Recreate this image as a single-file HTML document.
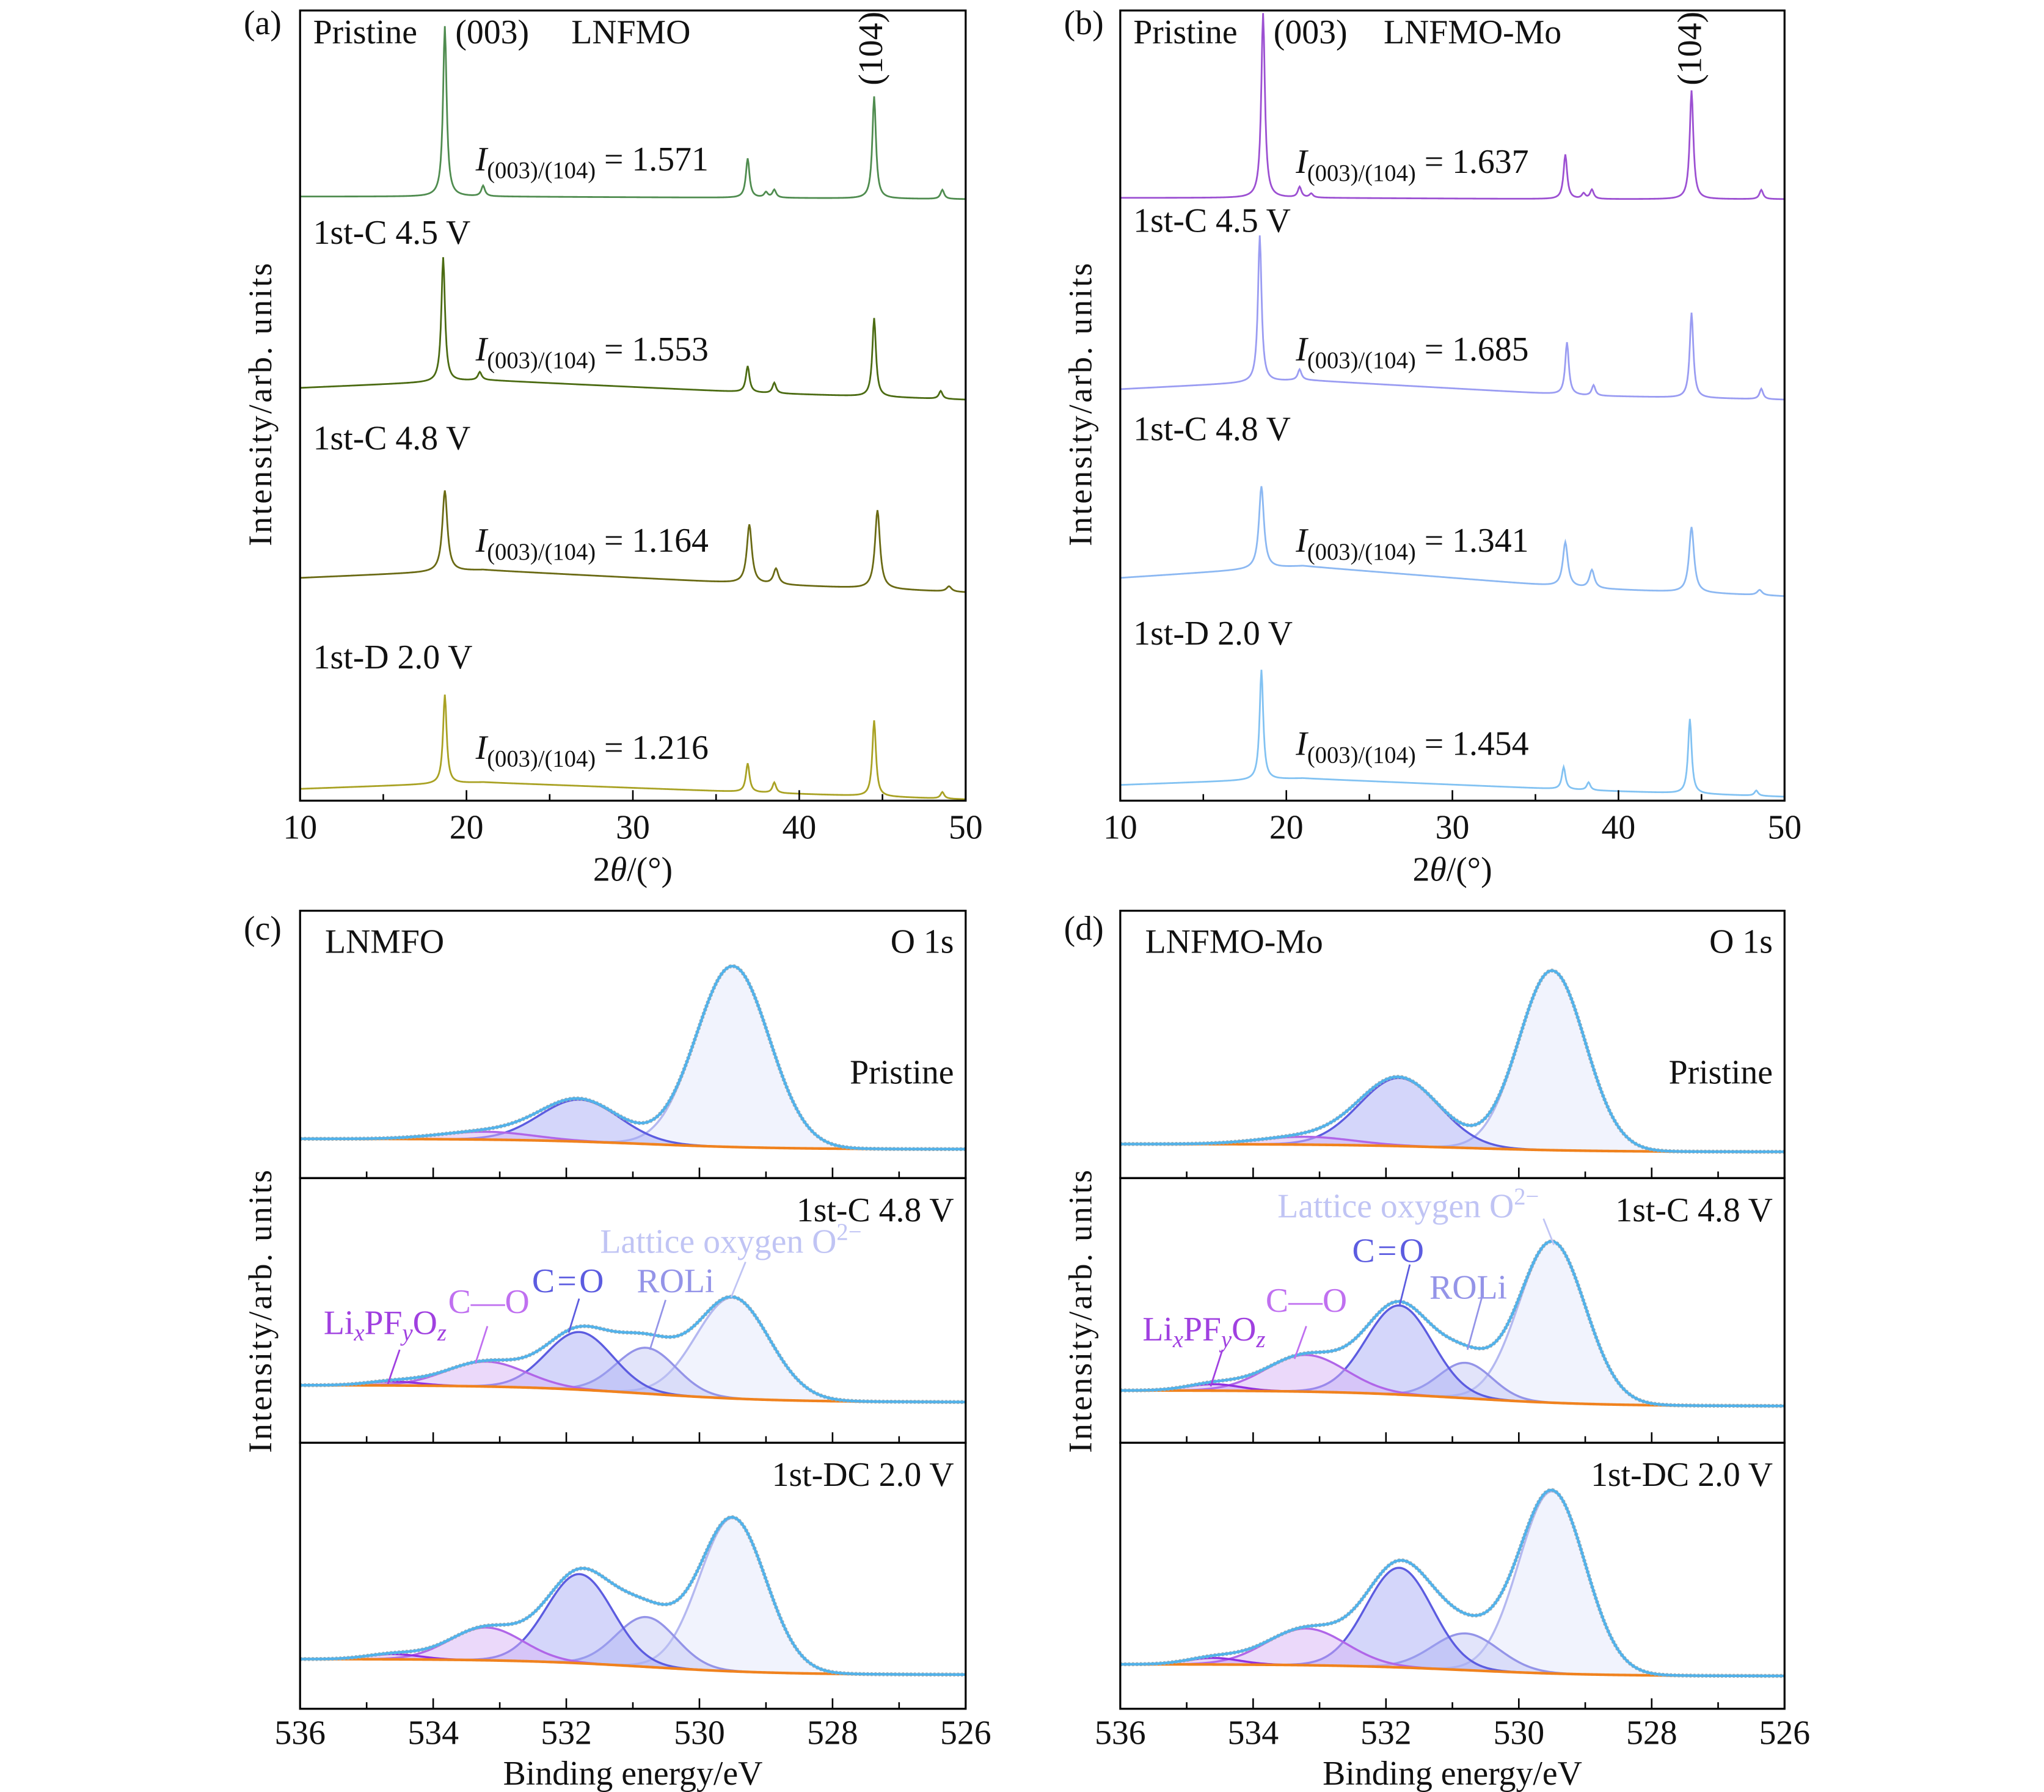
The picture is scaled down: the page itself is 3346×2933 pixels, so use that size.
<!DOCTYPE html>
<html><head><meta charset="utf-8"><style>
html,body{margin:0;padding:0;background:#fff}
svg{display:block}
text{font-family:"Liberation Serif",serif;fill:#111}
</style></head><body>
<svg id="fig" width="3346" height="2933" viewBox="0 0 1560 1367.5" xmlns="http://www.w3.org/2000/svg">
<g id="root"></g>
</svg>
<script>
// ---------- XRD data (peak positions in 2θ, peak heights, baseline levels; intensity units, larger = up) ----------
const xrdTicks = [10,20,30,40,50];
const xrdMinor = [15,25,35,45];
// panel a
const aNames = ["Pristine","1st-C 4.5 V","1st-C 4.8 V","1st-D 2.0 V"];
const aRatios = ["1.571","1.553","1.164","1.216"];
const aPos = [[18.7,21.0,36.9,38.0,38.5,44.5,48.6],[18.6,20.8,36.9,38.5,44.5,48.5],[18.7,37.0,38.6,44.7,49.0],[18.7,36.9,38.5,44.5,48.6]];
const aHeights = [[130,8,30,4,6,78,7],[95,6,20,8,60,6],[62,45,12,60,4],[68,22,8,58,5]];
const aBase = [[0,0,-1,-2],[0,6,-4,-9],[0,6,-5,-11],[0,5,-3,-8]]; // baseline at 10,21,38,50
const aOffset = [150,296,441,602];
// panel b
const bNames = ["Pristine","1st-C 4.5 V","1st-C 4.8 V","1st-D 2.0 V"];
const bRatios = ["1.637","1.685","1.341","1.454"];
const bPos = [[18.6,20.8,21.5,36.8,37.9,38.4,44.4,48.6],[18.4,20.8,36.9,38.5,44.4,48.6],[18.5,36.8,38.4,44.4,48.5],[18.5,36.7,38.2,44.3,48.3]];
const bHeights = [[141,8,3,34,4,7,83,7],[112,8,40,8,65,8],[63,34,14,50,4],[84,17,6,57,4]];
const bBase = [[0,0,-1,-1],[0,7,-5,-8],[0,9,-8,-14],[0,5,-4,-9]];
const bOffset = [151,297,441,599];

// ---------- XPS data (eV centers, heights, sigmas) ----------
const xpsTicks = [536,534,532,530,528,526];
const xpsMinor = [535,533,531,529,527];
const compNames = ["lattice","roli","co-double","c-o","lipfo"];
const compCenters = [529.5,530.8,531.8,533.2,534.6];
const cHeights = [[138,0,32,6,0],[77,35,44,19,3],[117,38,68,25,4]];
const cSigmas = [[0.55,0.45,0.6,0.7,0.4],[0.55,0.45,0.5,0.6,0.4],[0.5,0.45,0.5,0.55,0.4]];
const cBgLeft = [869,1057,1266];
const cBgRight = [877,1070,1278];
const dHeights = [[137,0,52,6,0],[123,27,68,28,5],[139,28,76,28,5]];
const dSigmas = [[0.5,0.45,0.6,0.7,0.4],[0.5,0.4,0.5,0.6,0.4],[0.5,0.5,0.5,0.6,0.4]];
const dBgLeft = [873,1061,1270];
const dBgRight = [879,1073,1279];
const sideLabels = ["Pristine","1st-C 4.8 V","1st-DC 2.0 V"];

const FS=26;
const NS="http://www.w3.org/2000/svg";
const root=document.getElementById('root');
function el(tag,attrs,parent){const e=document.createElementNS(NS,tag);for(const k in attrs)e.setAttribute(k,attrs[k]);(parent||root).appendChild(e);return e;}
function txt(x,y,s,size,anchor,fill,parent){const t=el('text',{x:x,y:y,'font-size':size,'text-anchor':anchor||'start'},parent);if(fill)t.setAttribute('style','fill:'+fill);t.textContent=s;return t;}

function xrdPanel(x0,x1,names,ratios,pos,hts,base,offs,colors,tag,title,labelYs,ratioYs,ratioX){
  const g=el('g',{});
  
  
  const y0=8,y1=611;
  const sx=v=>x0+(v-10)/(40)*(x1-x0);
  for(let i=0;i<names.length;i++){
    let d='';
    for(let k=0;k<=800;k++){
      const t=10+k*0.05;
      let b;
      if(t<=21)b=base[i][0]+(base[i][1]-base[i][0])*(t-10)/11;
      else if(t<=38)b=base[i][1]+(base[i][2]-base[i][1])*(t-21)/17;
      else b=base[i][2]+(base[i][3]-base[i][2])*(t-38)/12;
      let I=b;
      for(let p=0;p<pos[i].length;p++){const w=(i==2)?0.18:0.13;const dx=(t-pos[i][p])/w;I+=hts[i][p]/(1+dx*dx);}
      d+=(k?'L':'M')+sx(t).toFixed(2)+','+(offs[i]-I).toFixed(2);
    }
    const p=el('path',{d:d,fill:'none',stroke:colors[i],'stroke-width':1.3},g);
    
    
    const l=txt(x0+10,labelYs[i],names[i],FS,'start',null,g);
    
    
    const r=el('text',{x:ratioX,y:ratioYs[i],'font-size':FS},g);
    r.innerHTML='<tspan font-style="italic">I</tspan><tspan font-size="18" dy="6">(003)/(104)</tspan><tspan dy="-6"> = '+ratios[i]+'</tspan>';
    
    
  }
  const f=el('rect',{x:x0,y:y0,width:x1-x0,height:y1-y0,fill:'none',stroke:'#000','stroke-width':1.5},g);
  
  xrdTicks.forEach(v=>{el('line',{x1:sx(v),x2:sx(v),y1:y1,y2:y1-8,stroke:'#000','stroke-width':1.2},g);
    const t=txt(sx(v),640,String(v),FS,'middle',null,g);});
  xrdMinor.forEach(v=>el('line',{x1:sx(v),x2:sx(v),y1:y1,y2:y1-5,stroke:'#000','stroke-width':1.2},g));
  const xl=el('text',{x:(x0+x1)/2,y:672,'font-size':FS,'text-anchor':'middle'},g);
  xl.innerHTML='2<tspan font-style="italic">θ</tspan>/(°)';
  
  const yl=txt(0,0,'Intensity/arb. units',FS-1,'middle',null,g);
  yl.setAttribute('transform','translate('+(x0-22)+',308) rotate(-90)');yl.setAttribute('letter-spacing','1.5');
  
  const pl=txt(x0-43,26,'('+tag+')',FS,'start',null,g);
  const a=txt(sx(tag=='a'?18.7:18.6)+8,33,'(003)',FS,'start',null,g);
  const tt=txt(tag=='a'?436:1056,33,title,FS,'start',null,g);
  const b=txt(0,0,'(104)',FS,'middle',null,g);b.setAttribute('transform','translate('+(sx(44.5)+6)+',37) rotate(-90)');
  
}
xrdPanel(229,737,aNames,aRatios,aPos,aHeights,aBase,aOffset,['#4f8c4f','#4b6b12','#6a6a14','#a9a224'],'a','LNFMO',[33,186,343,510],[130,275,421,579],363);
xrdPanel(855,1362,bNames,bRatios,bPos,bHeights,bBase,bOffset,['#9c50d2','#9a9cf2','#8cb8f2','#82c2f2'],'b','LNFMO-Mo',[33,177,336,492],[132,275,421,576],989);

const compStroke=['#b4b8f0','#9494e8','#5c5ce0','#b066e8','#9030e0'];
const compFill=['rgba(225,228,250,0.45)','rgba(190,195,245,0.45)','rgba(160,165,245,0.45)','rgba(215,180,245,0.5)','rgba(180,120,240,0.3)'];
function xpsPanel(x0,x1,hts,sigs,bgL,bgR,tag,title){
  const g=el('g',{});
  
  const sx=v=>x0+(536-v)/10*(x1-x0);
  const tops=[695,899,1101],bots=[899,1101,1304];
  for(let s=0;s<3;s++){
    const bg=t=>bgR[s]+(bgL[s]-bgR[s])/(1+Math.exp(-(t-530.8)/1.0));
    const N=400;const xs=[];for(let k=0;k<=N;k++)xs.push(536-k*10/N);
    for(let c=0;c<5;c++){
      if(hts[s][c]<=0)continue;
      const pts=xs.map(t=>[sx(t),bg(t)-hts[s][c]*Math.exp(-0.5*Math.pow((t-compCenters[c])/sigs[s][c],2))]);
      let d='M'+pts.map(p=>p[0].toFixed(2)+','+p[1].toFixed(2)).join('L');
      let fd=d;for(let k=N;k>=0;k--)fd+='L'+sx(xs[k]).toFixed(2)+','+bg(xs[k]).toFixed(2);
      const fp=el('path',{d:fd+'Z',fill:compFill[c],stroke:'none'},g);
      
      const lp=el('path',{d:d,fill:'none',stroke:compStroke[c],'stroke-width':1.6},g);
      
    }
    const bp=el('path',{d:'M'+xs.map(t=>sx(t).toFixed(2)+','+bg(t).toFixed(2)).join('L'),fill:'none',stroke:'#f0821e','stroke-width':2},g);
    
    const env=xs.map(t=>{let v=bg(t);for(let c=0;c<5;c++)v-=hts[s][c]*Math.exp(-0.5*Math.pow((t-compCenters[c])/sigs[s][c],2));return sx(t).toFixed(2)+','+v.toFixed(2);});
    const ep=el('path',{d:'M'+env.join('L'),fill:'none',stroke:'#aaaaaa','stroke-width':3,'stroke-dasharray':'1.5 1.5'},g);
    
    const en=el('path',{d:'M'+env.join('L'),fill:'none',stroke:'#52b2ea','stroke-width':2},g);
    
    const fr=el('rect',{x:x0,y:tops[s],width:x1-x0,height:bots[s]-tops[s],fill:'none',stroke:'#000','stroke-width':1.5},g);
    
    xpsTicks.forEach(v=>el('line',{x1:sx(v),x2:sx(v),y1:bots[s],y2:bots[s]-8,stroke:'#000','stroke-width':1.2},g));
    xpsMinor.forEach(v=>el('line',{x1:sx(v),x2:sx(v),y1:bots[s],y2:bots[s]-5,stroke:'#000','stroke-width':1.2},g));
    const sl=txt(x1-9,tops[s]+(s==0?132:33),sideLabels[s],FS,'end',null,g);
    
  }
  xpsTicks.forEach(v=>{const t=txt(sx(v),1331,String(v),FS,'middle',null,g);});
  const xl=txt((x0+x1)/2,1362,'Binding energy/eV',FS,'middle',null,g);
  const yl=txt(0,0,'Intensity/arb. units',FS-1,'middle',null,g);
  yl.setAttribute('transform','translate('+(x0-22)+',1000) rotate(-90)');yl.setAttribute('letter-spacing','1.5');
  
  const pl=txt(x0-43,717,'('+tag+')',FS,'start',null,g);
  const tl=txt(x0+19,727,title,FS,'start',null,g);
  const o=txt(x1-9,727,'O 1s',FS,'end',null,g);
  return g;
}
const gc=xpsPanel(229,737,cHeights,cSigmas,cBgLeft,cBgRight,'c','LNMFO');
const gd=xpsPanel(855,1362,dHeights,dSigmas,dBgLeft,dBgRight,'d','LNFMO-Mo');

function ann(g,x,y,html,color,lx1,ly1,lx2,ly2,name){
  const t=el('text',{x:x,y:y,'font-size':FS},g);t.setAttribute('style','fill:'+color);t.innerHTML=html;
  
  const l=el('line',{x1:lx1,y1:ly1,x2:lx2,y2:ly2,stroke:color,'stroke-width':1.3},g);
  
}
const lipf='Li<tspan font-style="italic" font-size="18" dy="5">x</tspan><tspan dy="-5">PF</tspan><tspan font-style="italic" font-size="18" dy="5">y</tspan><tspan dy="-5">O</tspan><tspan font-style="italic" font-size="18" dy="5">z</tspan>';
const lat='Lattice oxygen O<tspan font-size="18" dy="-10">2−</tspan>';
ann(gc,458,956,lat,'#c0c4f4',569,963,558,990,'lattice-oxygen');
ann(gc,406,986,'C<tspan dx="2">=</tspan><tspan dx="2">O</tspan>','#5c5ce0',442,991,434,1017,'c-double-o');
ann(gc,486,986,'ROLi','#9494e8',508,992,496,1030,'roli');
ann(gc,342,1002,'C—O','#c070f0',372,1012,363,1040,'c-o');
ann(gc,247,1018,lipf,'#a040e0',305,1030,296,1056,'lipfo');
ann(gd,975,929,lat,'#c0c4f4',1178,930,1186,950,'lattice-oxygen');
ann(gd,1032,963,'C<tspan dx="2">=</tspan><tspan dx="2">O</tspan>','#5c5ce0',1076,965,1068,997,'c-double-o');
ann(gd,1091,991,'ROLi','#9494e8',1131,990,1120,1030,'roli');
ann(gd,966,1001,'C—O','#c070f0',997,1012,988,1037,'c-o');
ann(gd,872,1023,lipf,'#a040e0',933,1030,924,1058,'lipfo');
</script>
</body></html>
